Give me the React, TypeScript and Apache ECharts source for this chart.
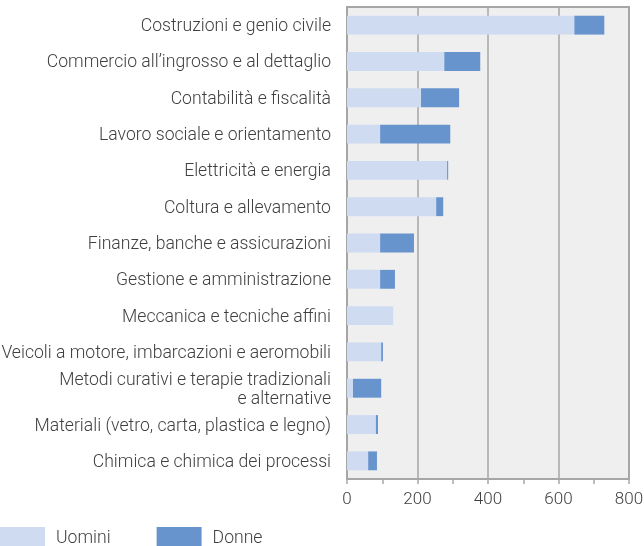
import React, { useEffect, useRef } from "react";
import * as echarts from "echarts";

const categories = [
  "Costruzioni e genio civile",
  "Commercio all’ingrosso e al dettaglio",
  "Contabilità e fiscalità",
  "Lavoro sociale e orientamento",
  "Elettricità e energia",
  "Coltura e allevamento",
  "Finanze, banche e assicurazioni",
  "Gestione e amministrazione",
  "Meccanica e tecniche affini",
  "Veicoli a motore, imbarcazioni e aeromobili",
  "Metodi curativi e terapie tradizionali\ne alternative",
  "Materiali (vetro, carta, plastica e legno)",
  "Chimica e chimica dei processi",
];

const uomini = [645, 276, 210, 94, 284, 253, 94, 94, 131, 97, 17, 82, 60];
const donne = [85, 102, 108, 199, 3, 20, 96, 42, 0, 5, 80, 6, 25];

const xTicks = { min: 0, max: 800, interval: 200 };

export default function App() {
  const ref = useRef<HTMLDivElement>(null);
  useEffect(() => {
    if (!ref.current) return;
    const chart = echarts.init(ref.current, null, { renderer: "svg" });
    const font = "Roboto";
    const textColor = "#404040";
    const gray = "#a6a6a6";
    chart.setOption({
      animation: false,
      textStyle: { fontFamily: font },
      grid: {
        left: 347,
        right: 15,
        top: 7,
        bottom: 67,
        containLabel: false,
        outerBoundsMode: "none",
        show: true,
        backgroundColor: "#efefef",
        borderColor: gray,
        borderWidth: 2,
      },
      legend: {
        left: 0,
        top: 527,
        padding: 0,
        itemWidth: 45,
        itemHeight: 19,
        itemGap: 46,
        icon: "rect",
        textStyle: {
          fontFamily: font,
          fontWeight: 300,
          fontSize: 17.6,
          color: textColor,
          padding: [0, 0, 0, 6],
        },
        data: ["Uomini", "Donne"],
      },
      xAxis: {
        type: "value",
        min: xTicks.min,
        max: xTicks.max,
        interval: xTicks.interval,
        axisLine: { show: true, lineStyle: { color: gray, width: 2 } },
        axisTick: { show: true, length: 5, lineStyle: { color: gray, width: 1.5 } },
        minorTick: { show: true, splitNumber: 2, length: 5, lineStyle: { color: gray, width: 1.5 } },
        splitLine: { show: true, lineStyle: { color: gray, width: 1.5 } },
        axisLabel: {
          fontFamily: font,
          fontWeight: 300,
          fontSize: 17,
          color: textColor,
          margin: 10,
        },
      },
      yAxis: {
        type: "category",
        inverse: true,
        data: categories,
        axisLine: { show: false },
        axisTick: { show: false },
        axisLabel: {
          fontFamily: font,
          fontWeight: 300,
          fontSize: 17.6,
          color: textColor,
          margin: 16,
          lineHeight: 19,
          align: "right",
        },
      },
      series: [
        {
          name: "Uomini",
          type: "bar",
          stack: "tot",
          data: uomini,
          barCategoryGap: "48%",
          itemStyle: { color: "#cedbf1" },
        },
        {
          name: "Donne",
          type: "bar",
          stack: "tot",
          data: donne,
          barCategoryGap: "48%",
          itemStyle: { color: "#6894cd" },
        },
      ],
    });
    return () => chart.dispose();
  }, []);
  return (
    <div
      ref={ref}
      style={{ position: "fixed", left: 0, top: 0, width: 644, height: 546 }}
    />
  );
}
